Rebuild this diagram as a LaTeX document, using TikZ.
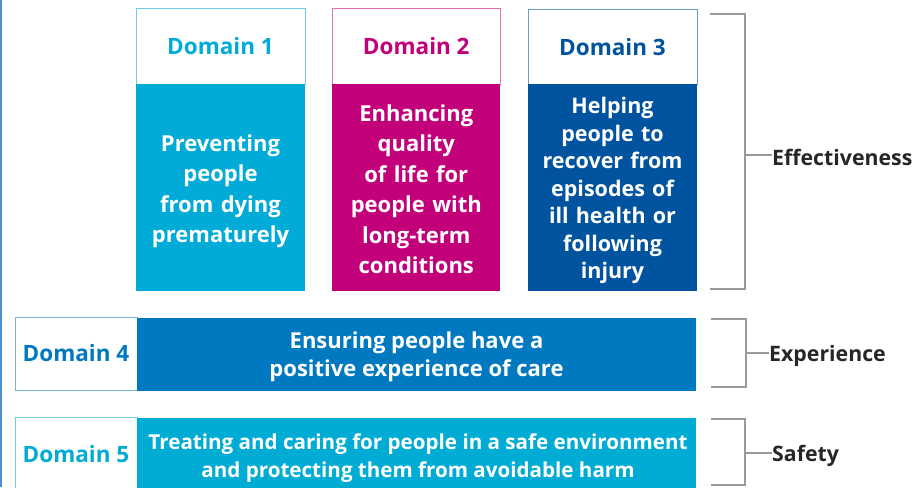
\documentclass[tikz,border=0pt]{standalone}
\usepackage{fontspec}
\setmainfont{Open Sans}
\definecolor{cA}{HTML}{00ACD7}
\definecolor{cB}{HTML}{C2007A}
\definecolor{cC}{HTML}{00539F}
\definecolor{cD}{HTML}{0079C1}
\definecolor{cE}{HTML}{00ACD4}
\definecolor{bA}{HTML}{6FCDE8}
\definecolor{bB}{HTML}{E070B0}
\definecolor{bC}{HTML}{6A9AD0}
\definecolor{bD}{HTML}{7AAEDC}
\definecolor{brk}{HTML}{9A9A9A}
\definecolor{edge}{HTML}{4A8FD0}
\begin{document}
\begin{tikzpicture}[x=1pt,y=-1pt,
  hdr/.style={draw, line width=1pt, fill=white, inner sep=0pt, font=\fontsize{22.5}{26}\selectfont\bfseries},
  body/.style={inner sep=0pt, text=white, align=center, font=\fontsize{22}{30.5}\selectfont\bfseries},
  brack/.style={draw=brk, line width=2.4pt},
  lab/.style={inner sep=0pt, anchor=west, font=\fontsize{21.3}{24}\selectfont\bfseries, text=black!85}]
\useasboundingbox (0,0) rectangle (915,487);
% Domain 1
\node[hdr, draw=bA, text=cA, minimum width=169pt, minimum height=76pt] (h1) at (220.5,46.5) {Domain 1};
\node[body, fill=cA, minimum width=169pt, minimum height=207pt] (b1) at (220.5,187.5) {};
\node[body, text width=165pt] (t1) at (220.5,191.5) {Preventing\\people\\from dying\\prematurely};
% Domain 2
\node[hdr, draw=bB, text=cB, minimum width=168pt, minimum height=76pt] (h2) at (416.3,46.5) {Domain 2};
\node[body, fill=cB, minimum width=168pt, minimum height=207pt] (b2) at (416.3,187.5) {};
\node[body, text width=165pt] (t2) at (416.3,189) {Enhancing\\quality\\of life for\\people with\\long-term\\conditions};
% Domain 3
\node[hdr, draw=bC, text=cC, minimum width=169pt, minimum height=75pt] (h3) at (612.5,47) {Domain 3};
\node[body, fill=cC, minimum width=169pt, minimum height=207pt] (b3) at (612.5,187.5) {};
\node[body, text width=165pt, font=\fontsize{21.5}{27.5}\selectfont\bfseries] (t3) at (612.5,190.5) {Helping\\people to\\recover from\\episodes of\\ill health or\\following\\injury};
% Domain 4
\node[hdr, draw=bD, text=cD, minimum width=122pt, minimum height=73pt] (h4) at (76,353.5) {Domain 4};
\node[body, fill=cD, minimum width=559pt, minimum height=73pt] (b4) at (416.5,354) {};
\node[body, font=\fontsize{22}{28}\selectfont\bfseries] (t4) at (416.5,357) {Ensuring people have a\\positive experience of care};
% Domain 5
\node[hdr, draw=bA, text=cE, minimum width=122pt, minimum height=80pt] (h5) at (76,457.5) {};
\node[inner sep=0pt, text=cE, font=\fontsize{22.5}{26}\selectfont\bfseries] (h5t) at (76,454) {Domain 5};
\node[body, fill=cE, minimum width=559pt, minimum height=75pt] (b5) at (416.5,455.5) {};
\node[body, font=\fontsize{20.6}{28}\selectfont\bfseries] (t5) at (418,458) {Treating and caring for people in a safe environment\\and protecting them from avoidable harm};
\draw[edge, line width=2pt] (1,0) -- (1,487);
% brackets
\node[lab] (eff) at (772,157) {Effectiveness};
\node[lab] (exp) at (769,356) {Experience};
\node[lab] (saf) at (772,456) {Safety};
\coordinate (effm) at (745,155);
\coordinate (expm) at (746,353);
\coordinate (safm) at (745,453);
\draw[brack] (710,14) -- (745,14) -- (745,289) -- (710,289);
\draw[brack] (effm) -- (effm -| eff.west);
\draw[brack] (711,319) -- (746,319) -- (746,387) -- (711,387);
\draw[brack] (expm) -- (expm -| exp.west);
\draw[brack] (711,419) -- (745,419) -- (745,485) -- (711,485);
\draw[brack] (safm) -- (safm -| saf.west);
\end{tikzpicture}
\end{document}
